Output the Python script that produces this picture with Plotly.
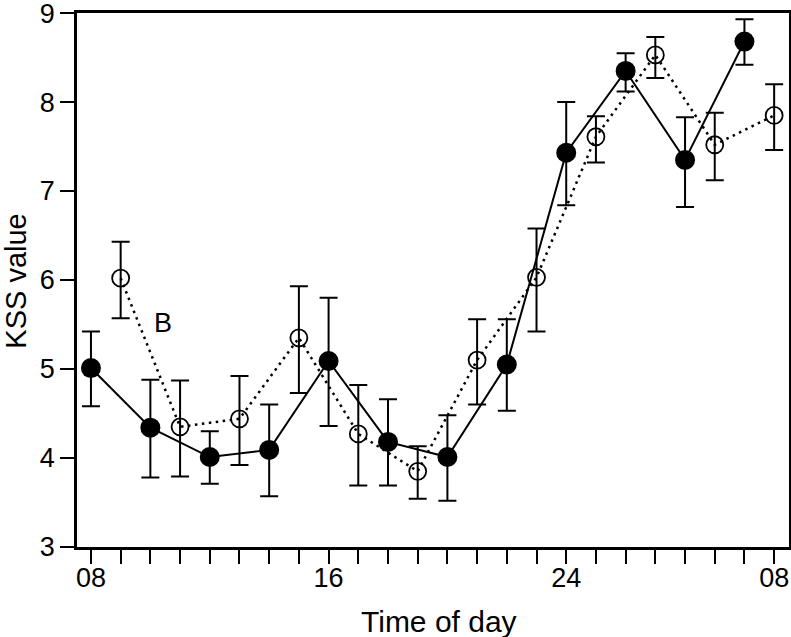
import plotly.graph_objects as go

# x positions are tick indices (one tick per hour-slot on the axis)
tick_index = list(range(24))
tick_labels = ["08" if i == 0 else "16" if i == 8 else "24" if i == 16 else "08" if i == 23 else "" for i in tick_index]

# Filled circles (solid line)
filled_x = [0, 2, 4, 6, 8, 10, 12, 14, 16, 18, 20, 22]
filled_y = [5.01, 4.34, 4.01, 4.09, 5.09, 4.18, 4.01, 5.05, 7.43, 8.35, 7.35, 8.68]
filled_hi = [5.42, 4.88, 4.30, 4.60, 5.80, 4.66, 4.48, 5.56, 8.00, 8.55, 7.83, 8.93]
filled_lo = [4.58, 3.78, 3.71, 3.57, 4.36, 3.69, 3.52, 4.53, 6.84, 8.12, 6.82, 8.42]

# Open circles (dotted line)
open_x = [1, 3, 5, 7, 9, 11, 13, 15, 17, 19, 21, 23]
open_y = [6.02, 4.35, 4.44, 5.35, 4.27, 3.85, 5.10, 6.03, 7.61, 8.53, 7.52, 7.85]
open_hi = [6.43, 4.87, 4.92, 5.93, 4.82, 4.13, 5.56, 6.58, 7.84, 8.73, 7.88, 8.20]
open_lo = [5.57, 3.79, 3.92, 4.73, 3.69, 3.54, 4.60, 5.42, 7.32, 8.27, 7.12, 7.46]

y_ticks = [3, 4, 5, 6, 7, 8, 9]

FONT = "Liberation Sans, Arial, Helvetica, sans-serif"

def err(y, hi, lo):
    return dict(type="data", symmetric=False,
                array=[h - v for h, v in zip(hi, y)],
                arrayminus=[v - l for v, l in zip(y, lo)],
                color="black", thickness=2, width=9)

fig = go.Figure()
fig.add_trace(go.Scatter(
    x=open_x, y=open_y, mode="lines+markers",
    line=dict(color="black", width=2.5, dash="2.5px,4.5px"),
    marker=dict(symbol="circle-open", size=17, color="black", line=dict(width=1.8, color="black")),
    error_y=err(open_y, open_hi, open_lo), showlegend=False))
fig.add_trace(go.Scatter(
    x=filled_x, y=filled_y, mode="lines+markers",
    line=dict(color="black", width=2),
    marker=dict(symbol="circle", size=20, color="black"),
    error_y=err(filled_y, filled_hi, filled_lo), showlegend=False))

fig.add_annotation(x=2.42, y=5.52, text="B", showarrow=False, xref="x", yref="y",
                   xanchor="center", yanchor="middle",
                   font=dict(family=FONT, size=27, color="black"))
fig.add_annotation(x=0.509, y=-0.1386, xref="paper", yref="paper", text="Time of day",
                   xanchor="center", yanchor="middle",
                   showarrow=False, font=dict(family=FONT, size=30, color="black"))
fig.add_annotation(x=-0.0862, y=0.498, xref="paper", yref="paper", text="KSS value",
                   xanchor="center", yanchor="middle",
                   textangle=-90, showarrow=False, font=dict(family=FONT, size=29, color="black"))

fig.update_xaxes(range=[-0.47, 23.5], tickmode="array", tickvals=tick_index, ticktext=tick_labels,
                 ticks="outside", ticklen=14, tickwidth=1.5, tickcolor="black",
                 showline=True, linewidth=2.5, linecolor="black", mirror=True,
                 showgrid=False, zeroline=False, automargin=False, ticklabeloverflow="allow",
                 ticklabelstandoff=-9,
                 tickfont=dict(family=FONT, size=27, color="black"))
fig.update_yaxes(range=[2.999, 9.001], tickmode="array", tickvals=y_ticks,
                 ticks="outside", ticklen=14, tickwidth=1.5, tickcolor="black",
                 showline=True, linewidth=2.5, linecolor="black", mirror=True,
                 showgrid=False, zeroline=False, automargin=False, ticklabeloverflow="allow",
                 tickfont=dict(family=FONT, size=27, color="black"))

fig.update_layout(width=791, height=637, margin=dict(l=77, r=2, t=13, b=90),
                  plot_bgcolor="white", paper_bgcolor="white")

# remove the default 8px page margin so the figure fills the window exactly
fig.write_html("out.html", config={"displayModeBar": False},
               post_script="document.body.style.margin='0';document.body.style.overflow='hidden';")
